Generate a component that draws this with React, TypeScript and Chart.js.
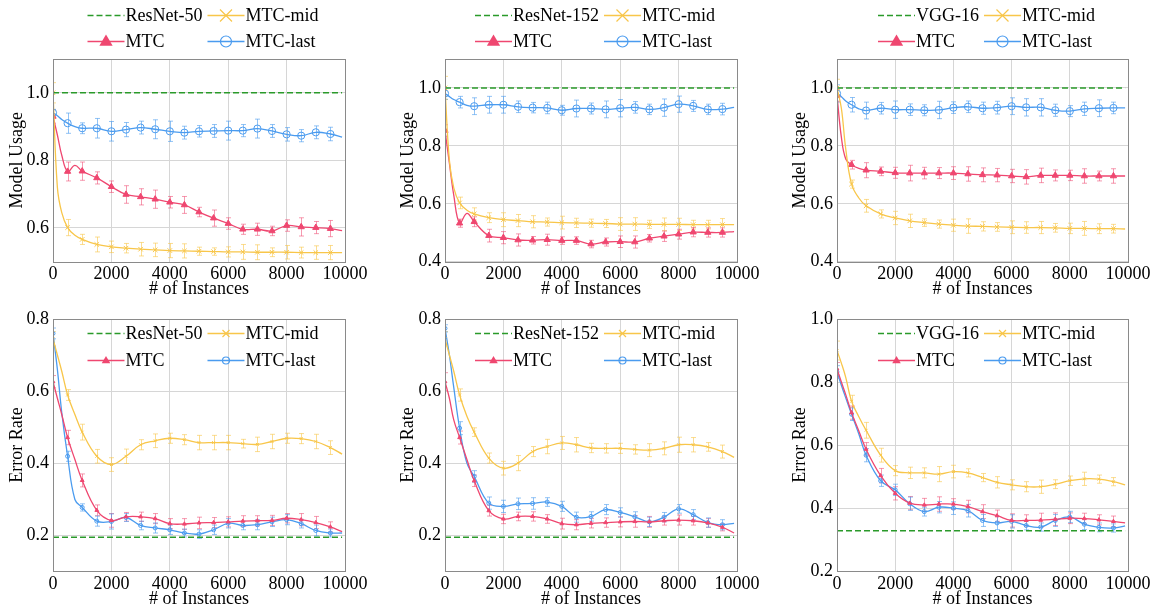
import React, { useEffect, useRef } from "react";
import { Chart, registerables } from "chart.js";

Chart.register(...registerables);

// ---------- data ----------
const X = [0, 150, 300, 500, 750, 1000, 1500, 2000, 2500, 3000, 3500, 4000, 4500, 5000, 5500, 6000, 6500, 7000, 7500, 8000, 8500, 9000, 9500, 9900];
const EX = [0, 500, 1000, 1500, 2000, 2500, 3000, 3500, 4000, 4500, 5000, 5500, 6000, 6500, 7000, 7500, 8000, 8500, 9000, 9500];
const X_TICKS = [0, 2000, 4000, 6000, 8000, 10000];

const BASE_NAMES = ["ResNet-50", "ResNet-152", "VGG-16"];
const SERIES_NAMES = ["MTC-mid", "MTC", "MTC-last"];
const Y_TITLES = ["Model Usage", "Error Rate"];
const X_TITLE = "# of Instances";

// Model usage, ResNet-50
const aBase = 1.0;
const aMid = [1.0, 0.72, 0.645, 0.601, 0.578, 0.566, 0.551, 0.544, 0.540, 0.537, 0.535, 0.533, 0.532, 0.531, 0.530, 0.529, 0.529, 0.528, 0.528, 0.528, 0.527, 0.527, 0.527, 0.527];
const aMidErr = [0.03, 0.024, 0.015, 0.022, 0.017, 0.014, 0.02, 0.02, 0.021, 0.021, 0.012, 0.011, 0.015, 0.022, 0.022, 0.013, 0.02, 0.016, 0.02, 0.021];
const aMtc = [0.93, 0.875, 0.815, 0.767, 0.785, 0.768, 0.748, 0.722, 0.699, 0.692, 0.685, 0.676, 0.668, 0.647, 0.629, 0.613, 0.596, 0.596, 0.591, 0.607, 0.603, 0.601, 0.598, 0.592];
const aMtcErr = [0.02, 0.028, 0.027, 0.018, 0.017, 0.026, 0.024, 0.027, 0.017, 0.025, 0.014, 0.024, 0.017, 0.015, 0.018, 0.014, 0.017, 0.027, 0.018, 0.024];
const aLast = [0.941, 0.932, 0.921, 0.910, 0.900, 0.895, 0.895, 0.886, 0.891, 0.897, 0.892, 0.886, 0.882, 0.886, 0.887, 0.888, 0.888, 0.894, 0.887, 0.877, 0.873, 0.883, 0.878, 0.869];
const aLastErr = [0.01, 0.03, 0.016, 0.029, 0.029, 0.021, 0.019, 0.028, 0.03, 0.019, 0.017, 0.019, 0.028, 0.018, 0.028, 0.019, 0.02, 0.018, 0.019, 0.02];

// Model usage, ResNet-152
const bBase = 1.0;
const bMid = [1.0, 0.75, 0.655, 0.603, 0.578, 0.565, 0.552, 0.545, 0.542, 0.538, 0.537, 0.535, 0.534, 0.533, 0.532, 0.530, 0.530, 0.529, 0.529, 0.529, 0.528, 0.528, 0.528, 0.528];
const bMidErr = [0.04, 0.02, 0.021, 0.017, 0.024, 0.021, 0.021, 0.014, 0.022, 0.016, 0.014, 0.014, 0.022, 0.022, 0.014, 0.022, 0.021, 0.015, 0.015, 0.021];
const bMtc = [0.853, 0.74, 0.63, 0.533, 0.567, 0.538, 0.490, 0.483, 0.475, 0.474, 0.476, 0.473, 0.473, 0.461, 0.468, 0.469, 0.468, 0.481, 0.488, 0.495, 0.502, 0.501, 0.501, 0.504];
const bMtcErr = [0.02, 0.014, 0.017, 0.022, 0.021, 0.021, 0.013, 0.019, 0.013, 0.013, 0.013, 0.014, 0.02, 0.021, 0.013, 0.018, 0.017, 0.016, 0.016, 0.016];
const bLast = [0.981, 0.97, 0.96, 0.951, 0.94, 0.937, 0.942, 0.942, 0.935, 0.932, 0.931, 0.923, 0.929, 0.929, 0.926, 0.930, 0.933, 0.926, 0.932, 0.944, 0.938, 0.926, 0.927, 0.933];
const bLastErr = [0.02, 0.02, 0.029, 0.029, 0.029, 0.02, 0.018, 0.02, 0.017, 0.029, 0.019, 0.029, 0.03, 0.02, 0.018, 0.03, 0.028, 0.019, 0.018, 0.02];

// Model usage, VGG-16
const cBase = 1.0;
const cMid = [1.0, 0.93, 0.79, 0.668, 0.62, 0.593, 0.565, 0.551, 0.541, 0.535, 0.530, 0.526, 0.523, 0.522, 0.520, 0.519, 0.518, 0.518, 0.517, 0.515, 0.515, 0.514, 0.514, 0.513];
const cMidErr = [0.03, 0.014, 0.022, 0.014, 0.023, 0.023, 0.013, 0.014, 0.021, 0.025, 0.016, 0.015, 0.022, 0.02, 0.021, 0.015, 0.018, 0.024, 0.017, 0.015];
const cMtc = [0.974, 0.83, 0.755, 0.735, 0.722, 0.716, 0.712, 0.707, 0.706, 0.706, 0.706, 0.706, 0.703, 0.700, 0.699, 0.696, 0.693, 0.698, 0.698, 0.698, 0.696, 0.696, 0.696, 0.696];
const cMtcErr = [0.02, 0.015, 0.026, 0.015, 0.019, 0.027, 0.02, 0.019, 0.022, 0.025, 0.024, 0.023, 0.023, 0.025, 0.025, 0.019, 0.018, 0.025, 0.017, 0.025];
const cLast = [0.981, 0.97, 0.955, 0.942, 0.928, 0.922, 0.930, 0.925, 0.925, 0.923, 0.924, 0.932, 0.935, 0.930, 0.932, 0.937, 0.933, 0.933, 0.923, 0.920, 0.928, 0.930, 0.931, 0.931];
const cLastErr = [0.03, 0.025, 0.029, 0.02, 0.03, 0.02, 0.019, 0.03, 0.02, 0.02, 0.021, 0.022, 0.029, 0.03, 0.03, 0.021, 0.019, 0.023, 0.029, 0.02];

// Error rate, ResNet-50
const dBase = 0.194;
const dMid = [0.745, 0.70, 0.655, 0.589, 0.535, 0.486, 0.419, 0.396, 0.419, 0.451, 0.462, 0.469, 0.465, 0.457, 0.457, 0.457, 0.454, 0.452, 0.46, 0.469, 0.468, 0.46, 0.443, 0.425];
const dMidErr = [0.02, 0.015, 0.022, 0.019, 0.019, 0.02, 0.014, 0.019, 0.014, 0.014, 0.02, 0.02, 0.02, 0.012, 0.02, 0.02, 0.014, 0.014, 0.02, 0.019];
const dMtc = [0.626, 0.58, 0.535, 0.471, 0.41, 0.352, 0.269, 0.241, 0.251, 0.251, 0.246, 0.232, 0.231, 0.234, 0.235, 0.237, 0.239, 0.24, 0.241, 0.247, 0.243, 0.235, 0.223, 0.21];
const dMtcErr = [0.017, 0.02, 0.018, 0.015, 0.019, 0.012, 0.013, 0.014, 0.014, 0.015, 0.016, 0.014, 0.014, 0.015, 0.014, 0.014, 0.013, 0.017, 0.017, 0.014];
const dLast = [0.76, 0.66, 0.54, 0.419, 0.299, 0.277, 0.239, 0.238, 0.249, 0.227, 0.22, 0.215, 0.206, 0.203, 0.215, 0.233, 0.227, 0.229, 0.237, 0.243, 0.232, 0.213, 0.206, 0.206];
const dLastErr = [0.015, 0.014, 0.01, 0.014, 0.021, 0.011, 0.012, 0.014, 0.013, 0.011, 0.012, 0.013, 0.013, 0.012, 0.014, 0.013, 0.014, 0.012, 0.015, 0.011];

// Error rate, ResNet-152
const eBase = 0.194;
const eMid = [0.745, 0.70, 0.655, 0.589, 0.53, 0.486, 0.414, 0.386, 0.40, 0.432, 0.446, 0.456, 0.451, 0.442, 0.441, 0.441, 0.438, 0.436, 0.441, 0.451, 0.451, 0.445, 0.432, 0.416];
const eMidErr = [0.02, 0.017, 0.012, 0.014, 0.019, 0.021, 0.014, 0.02, 0.018, 0.02, 0.013, 0.013, 0.014, 0.013, 0.018, 0.018, 0.021, 0.02, 0.012, 0.018];
const eMtc = [0.626, 0.58, 0.52, 0.471, 0.41, 0.351, 0.268, 0.245, 0.252, 0.252, 0.245, 0.232, 0.229, 0.233, 0.235, 0.237, 0.238, 0.237, 0.24, 0.242, 0.24, 0.234, 0.222, 0.206];
const eMtcErr = [0.025, 0.018, 0.016, 0.015, 0.013, 0.012, 0.013, 0.012, 0.015, 0.014, 0.013, 0.013, 0.014, 0.016, 0.015, 0.012, 0.014, 0.012, 0.012, 0.01];
const eLast = [0.774, 0.70, 0.61, 0.497, 0.40, 0.363, 0.289, 0.28, 0.287, 0.288, 0.292, 0.28, 0.25, 0.252, 0.271, 0.263, 0.251, 0.237, 0.25, 0.273, 0.257, 0.235, 0.229, 0.233];
const eLastErr = [0.01, 0.018, 0.016, 0.017, 0.017, 0.016, 0.016, 0.012, 0.014, 0.014, 0.013, 0.014, 0.013, 0.014, 0.013, 0.013, 0.012, 0.014, 0.013, 0.014];

// Error rate, VGG-16
const fBase = 0.328;
const fMid = [0.90, 0.86, 0.815, 0.739, 0.69, 0.647, 0.568, 0.519, 0.512, 0.512, 0.508, 0.516, 0.512, 0.497, 0.482, 0.474, 0.468, 0.468, 0.476, 0.487, 0.493, 0.492, 0.484, 0.474];
const fMidErr = [0.03, 0.019, 0.025, 0.022, 0.016, 0.018, 0.016, 0.024, 0.02, 0.013, 0.013, 0.018, 0.016, 0.016, 0.021, 0.014, 0.015, 0.021, 0.013, 0.013];
const fMtc = [0.842, 0.80, 0.76, 0.703, 0.645, 0.587, 0.503, 0.447, 0.416, 0.41, 0.413, 0.413, 0.405, 0.389, 0.376, 0.361, 0.361, 0.362, 0.365, 0.368, 0.367, 0.363, 0.358, 0.353];
const fMtcErr = [0.02, 0.021, 0.021, 0.023, 0.021, 0.021, 0.021, 0.023, 0.017, 0.02, 0.022, 0.018, 0.021, 0.018, 0.022, 0.02, 0.017, 0.017, 0.016, 0.017];
const fLast = [0.832, 0.79, 0.75, 0.698, 0.635, 0.568, 0.487, 0.458, 0.414, 0.389, 0.403, 0.40, 0.392, 0.361, 0.353, 0.358, 0.345, 0.34, 0.361, 0.372, 0.349, 0.339, 0.337, 0.344];
const fLastErr = [0.02, 0.02, 0.021, 0.018, 0.018, 0.021, 0.014, 0.018, 0.02, 0.02, 0.019, 0.021, 0.021, 0.014, 0.013, 0.019, 0.018, 0.017, 0.014, 0.013];

const Y_RANGES = [[0.5, 1.1], [0.4, 1.1], [0.4, 1.1], [0.1, 0.8], [0.1, 0.8], [0.2, 1.0]];
const Y_TICKS = [[0.6, 0.8, 1.0], [0.4, 0.6, 0.8, 1.0], [0.4, 0.6, 0.8, 1.0], [0.2, 0.4, 0.6, 0.8], [0.2, 0.4, 0.6, 0.8], [0.2, 0.4, 0.6, 0.8, 1.0]];

// ---------- style ----------
const FONT = '"Liberation Serif", "Times New Roman", serif';
const FS = 18;
const GREEN = "#2a9a2a";
const ORANGE = "#f8c64a";
const RED = "#ef4770";
const BLUE = "#4a9bef";
const ERR = { [ORANGE]: "rgba(248,198,74,0.6)", [RED]: "rgba(239,71,112,0.55)", [BLUE]: "rgba(74,155,239,0.6)" };

const COLS = [
  { cl: 0, cr: 390, pl: 53, pr: 345, tpad: 6 },
  { cl: 390, cr: 780, pl: 445, pr: 737, tpad: 7 },
  { cl: 780, cr: 1157, pl: 837, pr: 1128, tpad: 9 },
];
const ROWS = [
  { ct: 0, pt: 59, pb: 262, titleY: 289.5, legendY: [-44, -18], top: true },
  { ct: 300, pt: 319, pb: 571, titleY: 599, legendY: [14, 41], top: false },
];

// ---------- plugins ----------
const errorBarPlugin = {
  id: "errBars",
  beforeDatasetsDraw(chart: any) {
    const { ctx, chartArea, scales } = chart;
    ctx.save();
    ctx.beginPath();
    ctx.rect(chartArea.left, chartArea.top, chartArea.right - chartArea.left, chartArea.bottom - chartArea.top);
    ctx.clip();
    chart.data.datasets.forEach((d: any) => {
      if (!d.errs) return;
      ctx.strokeStyle = ERR[d.borderColor];
      ctx.lineWidth = 1;
      EX.forEach((x, i) => {
        const j = X.indexOf(x);
        const v = d.data[j].y;
        const e = d.errs[i];
        const px = Math.round(scales.x.getPixelForValue(x)) + 0.5;
        const y1 = scales.y.getPixelForValue(v - e);
        const y2 = scales.y.getPixelForValue(v + e);
        ctx.beginPath();
        ctx.moveTo(px, y1);
        ctx.lineTo(px, y2);
        ctx.moveTo(px - 2.5, y1);
        ctx.lineTo(px + 2.5, y1);
        ctx.moveTo(px - 2.5, y2);
        ctx.lineTo(px + 2.5, y2);
        ctx.stroke();
      });
    });
    ctx.restore();
  },
};

const framePlugin = {
  id: "frame",
  afterDatasetsDraw(chart: any) {
    const { ctx, chartArea } = chart;
    ctx.save();
    ctx.strokeStyle = "#8a8a8a";
    ctx.lineWidth = 1;
    ctx.strokeRect(
      Math.round(chartArea.left) + 0.5,
      Math.round(chartArea.top) + 0.5,
      Math.round(chartArea.right - chartArea.left),
      Math.round(chartArea.bottom - chartArea.top)
    );
    ctx.restore();
  },
};

function drawMarker(ctx: CanvasRenderingContext2D, kind: string, x: number, y: number, r: number, color: string) {
  ctx.save();
  ctx.strokeStyle = color;
  ctx.fillStyle = color;
  ctx.lineWidth = 1.2;
  ctx.beginPath();
  if (kind === "triangle") {
    ctx.moveTo(x, y - r);
    ctx.lineTo(x + r * 0.95, y + r * 0.6);
    ctx.lineTo(x - r * 0.95, y + r * 0.6);
    ctx.closePath();
    ctx.fill();
  } else if (kind === "circle") {
    ctx.arc(x, y, r, 0, Math.PI * 2);
    ctx.stroke();
  } else if (kind === "crossRot") {
    ctx.moveTo(x - r, y - r);
    ctx.lineTo(x + r, y + r);
    ctx.moveTo(x + r, y - r);
    ctx.lineTo(x - r, y + r);
    ctx.stroke();
  }
  ctx.restore();
}

const legendPlugin = {
  id: "mtcLegend",
  afterDraw(chart: any, _a: any, opts: any) {
    const { ctx, chartArea } = chart;
    const ds = chart.data.datasets;
    ctx.save();
    ctx.font = `${FS}px ${FONT}`;
    const w1 = Math.max(ctx.measureText(ds[0].label).width, ctx.measureText(ds[2].label).width);
    const w2 = Math.max(ctx.measureText(ds[1].label).width, ctx.measureText(ds[3].label).width);
    const HL = 37, GAP = 1, CS = 5;
    const total = HL + GAP + w1 + CS + HL + GAP + w2;
    const cx = (chartArea.left + chartArea.right) / 2;
    const left = cx - total / 2 + 4;
    const colX = [left, left + HL + GAP + w1 + CS];
    const rows = [[0, 1], [2, 3]];
    rows.forEach((row, ri) => {
      const y = Math.round(chartArea.top + opts.rowY[ri]) + 0.5;
      row.forEach((di, ci) => {
        const d = ds[di];
        const x0 = colX[ci];
        ctx.strokeStyle = d.borderColor;
        ctx.lineWidth = d.borderWidth;
        ctx.setLineDash(d.borderDash || []);
        ctx.beginPath();
        ctx.moveTo(x0, y);
        ctx.lineTo(x0 + HL, y);
        ctx.stroke();
        ctx.setLineDash([]);
        if (d.legendMarker) drawMarker(ctx, d.legendMarker, x0 + HL / 2, y, opts.big ? d.legendBig : d.legendSmall, d.borderColor);
        ctx.fillStyle = "#000";
        ctx.textBaseline = "middle";
        ctx.textAlign = "left";
        ctx.fillText(d.label, x0 + HL + GAP, y + 1);
      });
    });
    ctx.restore();
  },
};

// ---------- panels ----------
type PanelDef = {
  idx: number;
  col: number;
  row: number;
  base: number;
  mid: number[];
  midErr: number[];
  mtc: number[];
  mtcErr: number[];
  last: number[];
  lastErr: number[];
};

const PANELS: PanelDef[] = [
  { idx: 0, col: 0, row: 0, base: aBase, mid: aMid, midErr: aMidErr, mtc: aMtc, mtcErr: aMtcErr, last: aLast, lastErr: aLastErr },
  { idx: 1, col: 1, row: 0, base: bBase, mid: bMid, midErr: bMidErr, mtc: bMtc, mtcErr: bMtcErr, last: bLast, lastErr: bLastErr },
  { idx: 2, col: 2, row: 0, base: cBase, mid: cMid, midErr: cMidErr, mtc: cMtc, mtcErr: cMtcErr, last: cLast, lastErr: cLastErr },
  { idx: 3, col: 0, row: 1, base: dBase, mid: dMid, midErr: dMidErr, mtc: dMtc, mtcErr: dMtcErr, last: dLast, lastErr: dLastErr },
  { idx: 4, col: 1, row: 1, base: eBase, mid: eMid, midErr: eMidErr, mtc: eMtc, mtcErr: eMtcErr, last: eLast, lastErr: eLastErr },
  { idx: 5, col: 2, row: 1, base: fBase, mid: fMid, midErr: fMidErr, mtc: fMtc, mtcErr: fMtcErr, last: fLast, lastErr: fLastErr },
];

function geometry(p: PanelDef) {
  const c = COLS[p.col];
  const r = ROWS[p.row];
  const lh = FS * 1.2;
  const xH = r.titleY - r.pb + lh / 2;
  return {
    left: c.cl,
    top: r.ct,
    width: c.cr - c.cl,
    height: Math.round(r.pb - r.ct + xH),
    padTop: r.pt - r.ct,
    padRight: c.cr - c.pr,
    yW: c.pl - c.cl,
    xH,
    tpad: c.tpad,
    legendY: r.legendY,
    big: r.top,
  };
}

function buildConfig(p: PanelDef): any {
  const g = geometry(p);
  const big = g.big;
  const onGrid = (r: number) => (c: any) => (c.raw && c.raw.x % 500 === 0 ? r : 0);
  const pts = (vals: number[]) => X.map((x, i) => ({ x, y: vals[i] }));
  const [yMin, yMax] = Y_RANGES[p.idx];
  const yTicks = Y_TICKS[p.idx];
  const font = { family: FONT, size: FS };
  return {
    type: "line",
    data: {
      datasets: [
        {
          label: BASE_NAMES[p.col],
          data: [{ x: 0, y: p.base }, { x: 9900, y: p.base }],
          borderColor: GREEN,
          borderWidth: 1.5,
          borderDash: [6, 3],
          pointRadius: 0,
          tension: 0,
        },
        {
          label: SERIES_NAMES[0],
          data: pts(p.mid),
          errs: p.midErr,
          borderColor: ORANGE,
          backgroundColor: ORANGE,
          borderWidth: 1.3,
          pointStyle: "crossRot",
          pointRadius: onGrid(big ? 3.2 : 2),
          pointBorderWidth: 1,
          tension: 0.4,
          legendMarker: "crossRot",
          legendBig: 6,
          legendSmall: 3.5,
        },
        {
          label: SERIES_NAMES[1],
          data: pts(p.mtc),
          errs: p.mtcErr,
          borderColor: RED,
          backgroundColor: RED,
          borderWidth: 1.3,
          pointStyle: "triangle",
          pointRadius: onGrid(big ? 3.6 : 2.2),
          pointBorderWidth: 1,
          tension: 0.4,
          legendMarker: "triangle",
          legendBig: 7,
          legendSmall: 4.5,
        },
        {
          label: SERIES_NAMES[2],
          data: pts(p.last),
          errs: p.lastErr,
          borderColor: BLUE,
          backgroundColor: "rgba(0,0,0,0)",
          borderWidth: 1.3,
          pointStyle: "circle",
          pointRadius: onGrid(big ? 3.6 : 2),
          pointBorderWidth: 1,
          tension: 0.4,
          legendMarker: "circle",
          legendBig: 5.5,
          legendSmall: 3.5,
        },
      ],
    },
    options: {
      responsive: false,
      animation: false,
      devicePixelRatio: 1,
      events: [],
      layout: { padding: { left: 0, top: g.padTop, right: g.padRight, bottom: 0 } },
      plugins: {
        legend: { display: false },
        tooltip: { enabled: false },
        mtcLegend: { rowY: g.legendY, big },
      },
      scales: {
        x: {
          type: "linear",
          min: 0,
          max: 10000,
          afterBuildTicks: (s: any) => {
            s.ticks = X_TICKS.map((v) => ({ value: v }));
          },
          afterFit: (s: any) => {
            s.height = g.xH;
          },
          grid: { color: "#d6d6d6", lineWidth: 1, drawTicks: false },
          border: { display: false },
          ticks: {
            font,
            color: "#000",
            padding: 2,
            maxRotation: 0,
            autoSkip: false,
            callback: (v: any) => String(v),
          },
          title: { display: true, text: X_TITLE, font, color: "#000", padding: { top: 0, bottom: 0 } },
        },
        y: {
          type: "linear",
          min: yMin,
          max: yMax,
          afterBuildTicks: (s: any) => {
            s.ticks = yTicks.map((v) => ({ value: v }));
          },
          afterFit: (s: any) => {
            s.width = g.yW;
          },
          grid: { color: "#d6d6d6", lineWidth: 1, drawTicks: false },
          border: { display: false },
          ticks: {
            font,
            color: "#000",
            padding: 4,
            autoSkip: false,
            callback: (v: any) => Number(v).toFixed(1),
          },
          title: { display: true, text: Y_TITLES[p.row], font, color: "#000", padding: { top: g.tpad, bottom: 0 } },
        },
      },
    },
    plugins: [errorBarPlugin, framePlugin, legendPlugin],
  };
}

function PanelChart({ p }: { p: PanelDef }) {
  const ref = useRef<HTMLCanvasElement>(null);
  const g = geometry(p);
  useEffect(() => {
    const chart = new Chart(ref.current as HTMLCanvasElement, buildConfig(p));
    return () => chart.destroy();
  }, []);
  return (
    <canvas
      ref={ref}
      width={g.width}
      height={g.height}
      style={{ position: "absolute", left: g.left, top: g.top, width: g.width, height: g.height }}
    />
  );
}

export default function App() {
  return (
    <div style={{ position: "fixed", left: 0, top: 0, width: 1157, height: 608, overflow: "hidden", background: "#fff" }}>
      {PANELS.map((p) => (
        <PanelChart key={p.idx} p={p} />
      ))}
    </div>
  );
}
